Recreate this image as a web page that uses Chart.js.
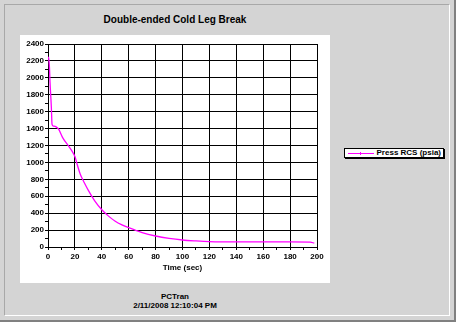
<!DOCTYPE html>
<html>
<head>
<meta charset="utf-8">
<script src="https://cdn.jsdelivr.net/npm/chart.js@4.4.1/dist/chart.umd.min.js"></script>
<style>
    html, body { margin: 0; padding: 0; }
    body {
        width: 456px; height: 322px; position: relative; overflow: hidden;
        background: #d4d4d4;
        font-family: "Liberation Sans", Arial, sans-serif;
    }
    .frame {
        position: absolute; left: 0; top: 0; width: 454px; height: 320px;
        border-right: 2px solid #808080; border-bottom: 2px solid #808080;
    }
    .inner {
        position: absolute; left: 4px; top: 4px; width: 444px; height: 310px;
        border-top: 1px solid #a8a8a8; border-left: 1px solid #a8a8a8;
        border-right: 1px solid #ffffff; border-bottom: 1px solid #ffffff;
    }
    .title {
        position: absolute; left: 20px; width: 310px; top: 14px;
        text-align: center; font-size: 10px; font-weight: bold; color: #000;
    }
    .panel {
        position: absolute; left: 20px; top: 35px; width: 310px; height: 248px;
        background: #ffffff;
    }
    .legend {
        position: absolute; left: 344px; top: 148px; width: 98px; height: 8px;
        border: 1px solid #000; box-shadow: 1px 1px 0 #000; background: #fff;
        font-size: 8px; font-weight: bold; line-height: 8px;
    }
    .legend .swatch {
        position: absolute; left: 3px; top: 4px; width: 26px; height: 1px; background: #ff00ff;
    }
    .legend .swatch i {
        position: absolute; left: 12px; top: -1px; width: 1px; height: 3px; background: #ff00ff;
    }
    .legend .label { position: absolute; right: 2px; top: 0; white-space: nowrap; }
    .footer {
        position: absolute; left: 20px; width: 310px; top: 292px;
        text-align: center; font-size: 8px; font-weight: bold; line-height: 9px;
    }
</style>
</head>
<body>
<div class="frame"></div>
<div class="inner"></div>
<div class="title">Double-ended Cold Leg Break</div>
<div class="panel"><canvas id="pressChart" width="310" height="248"></canvas></div>
<div class="legend"><div class="swatch"><i></i></div><span class="label">Press RCS (psia)</span></div>
<div class="footer">PCTran<br>2/11/2008 12:10:04 PM</div>

<script>
// time (sec) and RCS pressure (psia)
const times = [0, 0.5, 1, 1.5, 2, 2.5, 3, 4, 6, 8, 11, 15, 18, 20, 22, 24, 27, 30, 35, 40,
    45, 50, 55, 60, 70, 80, 90, 100, 110, 120, 140, 160, 180, 195, 198];
const pressures = [2250, 2230, 2150, 1950, 1800, 1650, 1450, 1430, 1420, 1390, 1290, 1200, 1130, 1070, 960, 860, 760, 670, 540, 440,
    365, 305, 262, 228, 170, 130, 102, 83, 72, 64, 60, 60, 60, 58, 45];

const xTicks = [0, 20, 40, 60, 80, 100, 120, 140, 160, 180, 200];
const yTicks = [0, 200, 400, 600, 800, 1000, 1200, 1400, 1600, 1800, 2000, 2200, 2400];

const points = times.map((t, i) => ({ x: t, y: pressures[i] }));
const tickFont = { family: '"Liberation Sans", Arial, sans-serif', size: 8, weight: 'bold' };

new Chart(document.getElementById('pressChart'), {
    type: 'line',
    data: {
        datasets: [{
            label: 'Press RCS (psia)',
            data: points,
            borderColor: '#ff00ff',
            borderWidth: 1.3,
            pointRadius: 0,
            cubicInterpolationMode: 'monotone',
            fill: false
        }]
    },
    options: {
        responsive: false,
        animation: false,
        layout: { padding: { left: 0, top: 9, right: 13, bottom: 0 } },
        plugins: {
            legend: { display: false },
            tooltip: { enabled: false }
        },
        scales: {
            x: {
                type: 'linear',
                min: 0,
                max: 200,
                afterFit: (scale) => { scale.height = 36; },
                border: { color: '#000', width: 1 },
                grid: {
                    color: (c) => xTicks.includes(c.tick.value) ? '#000' : 'rgba(0,0,0,0)',
                    tickColor: '#000',
                    tickLength: 3
                },
                ticks: {
                    stepSize: 10,
                    autoSkip: false,
                    maxRotation: 0,
                    padding: 2,
                    color: '#000',
                    font: tickFont,
                    callback: (v) => xTicks.includes(v) ? String(v) : ''
                },
                title: {
                    display: true,
                    text: 'Time (sec)',
                    color: '#000',
                    font: tickFont,
                    padding: { top: 1, bottom: 10 }
                }
            },
            y: {
                min: 0,
                max: 2400,
                afterFit: (scale) => { scale.width = 28; },
                border: { color: '#000', width: 1 },
                grid: {
                    color: (c) => yTicks.includes(c.tick.value) ? '#000' : 'rgba(0,0,0,0)',
                    tickColor: '#000',
                    tickLength: 3
                },
                ticks: {
                    stepSize: 100,
                    autoSkip: false,
                    padding: 1,
                    color: '#000',
                    font: tickFont,
                    callback: (v) => yTicks.includes(v) ? String(v) : ''
                }
            }
        }
    }
});
</script>
</body>
</html>
